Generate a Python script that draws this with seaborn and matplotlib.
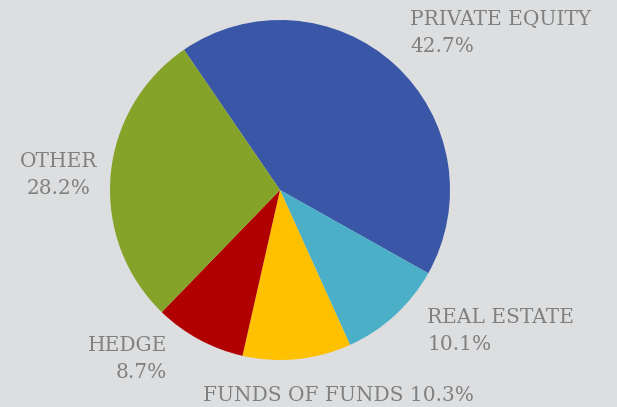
import matplotlib
matplotlib.use("Agg")
import matplotlib.pyplot as plt
import seaborn as sns

categories = ["PRIVATE EQUITY", "REAL ESTATE", "FUNDS OF FUNDS", "HEDGE", "OTHER"]
shares = [42.7, 10.1, 10.3, 8.7, 28.2]
colors = ["#3A56A6", "#4BAFC8", "#FFC000", "#B00000", "#84A328"]

sns.set_theme(style="white")
plt.rcParams["font.family"] = ["DejaVu Serif"]
bg = "#DDDEE0"
txt = "#808080"

fig = plt.figure(figsize=(6.17, 4.07), dpi=100, facecolor=bg)
ax = fig.add_axes([(280 - 170) / 617, 1 - (190 + 170) / 407, 340 / 617, 340 / 407])
ax.set_facecolor(bg)

ax.pie(shares, colors=colors, startangle=124.4, counterclock=False,
       wedgeprops=dict(linewidth=0))
ax.set_xlim(-1, 1)
ax.set_ylim(-1, 1)
ax.set_aspect("equal")
ax.axis("off")

# label positions in figure pixels (x, y-from-top, ha, line alignment)
label_pos = {
    "PRIVATE EQUITY": (410, 10, "left", "left"),
    "REAL ESTATE": (427, 308, "left", "left"),
    "FUNDS OF FUNDS": (203, 386, "left", "left"),
    "HEDGE": (167, 336, "right", "right"),
    "OTHER": (20, 152, "left", "center"),
}
for name, val in zip(categories, shares):
    x, y, ha, ma = label_pos[name]
    if name == "FUNDS OF FUNDS":
        s = f"{name} {val}%"
    else:
        s = f"{name}\n{val}%"
    fig.text(x / 617, 1 - y / 407, s, ha=ha, va="top", color=txt,
             fontsize=14.5, linespacing=1.55, multialignment=ma)

fig.savefig("out.png", dpi=100, facecolor=bg)
